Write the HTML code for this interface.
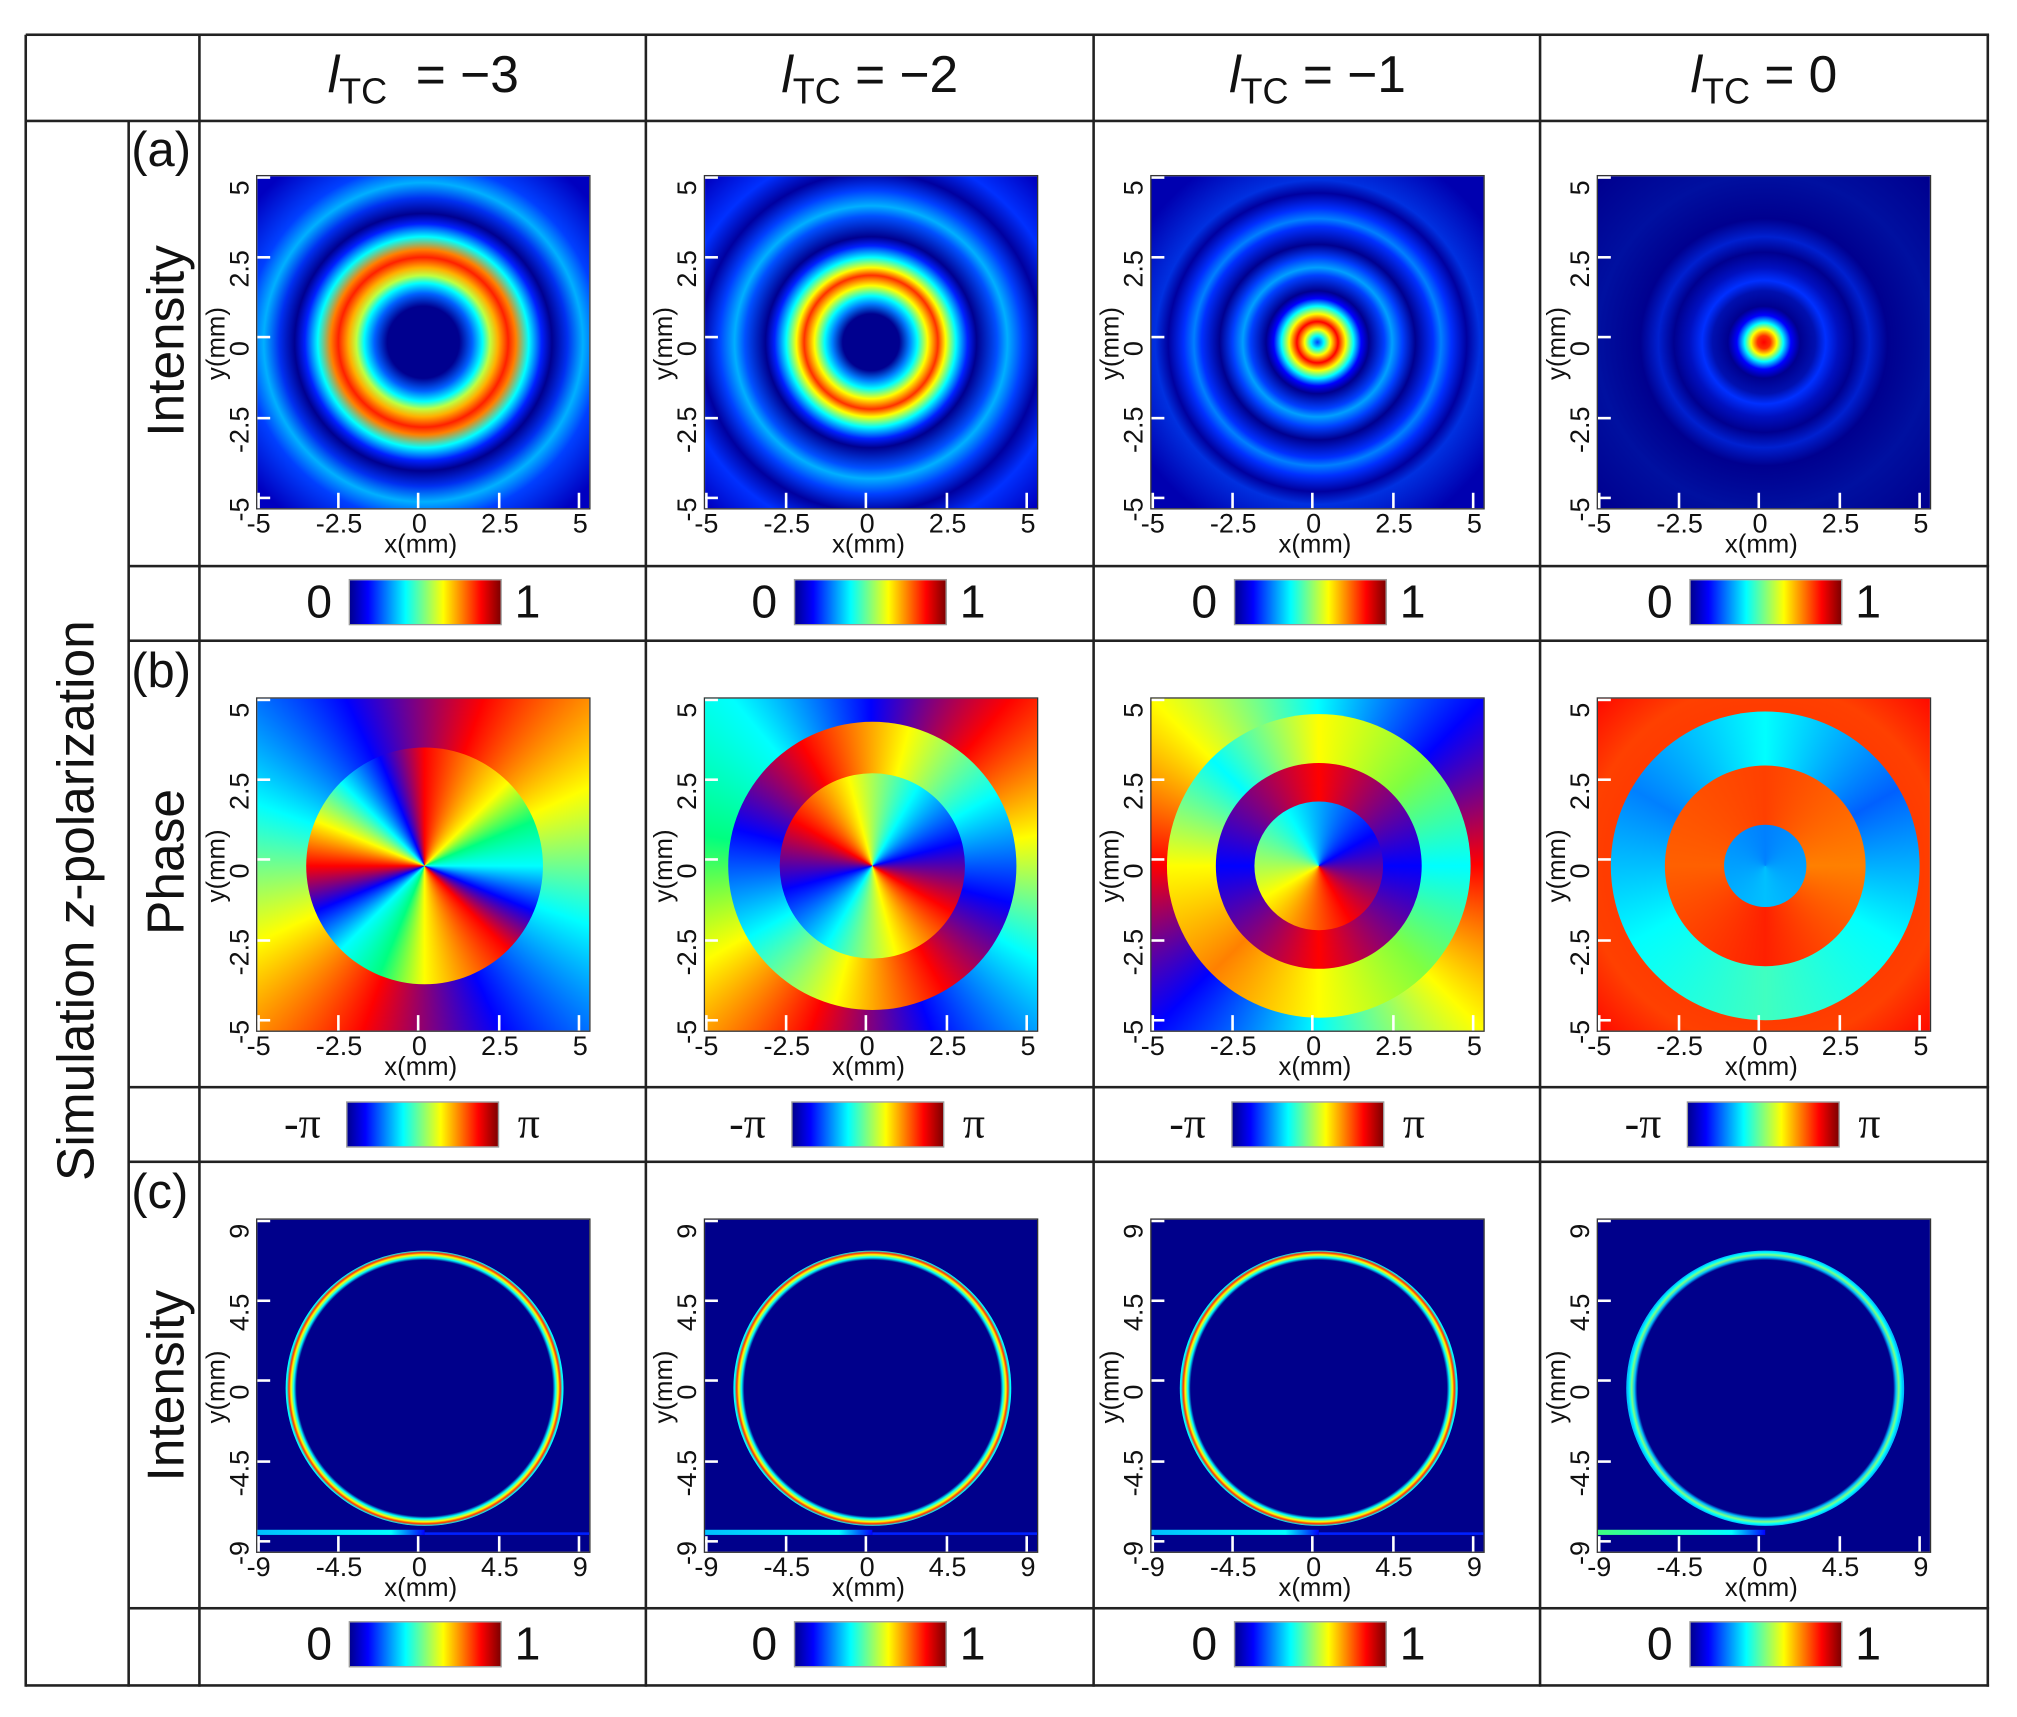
<!DOCTYPE html>
<html><head><meta charset="utf-8">
<style>
html,body{margin:0;padding:0;background:#fff;overflow:hidden}
#w{position:absolute;left:0;top:0;width:1560px;height:1328px;transform:scale(1.2866);transform-origin:0 0;font-family:"Liberation Sans",sans-serif;color:#111}
.h{position:absolute;background:#222;height:2px}
.v{position:absolute;background:#222;width:2px}
.t{position:absolute;white-space:nowrap}
.p{position:absolute;width:260px;height:260px;border:1.5px solid #333;box-sizing:border-box;overflow:hidden}
.tk{position:absolute;background:#fff}
.cb{position:absolute;width:119px;height:36px;background:linear-gradient(90deg,#00008f 0%,#0000ff 12%,#00ffff 37%,#ffff00 62%,#ff0000 87%,#7f0000 100%);border:1px solid #999;box-sizing:border-box}
.rot{transform:translate(-50%,-50%) rotate(-90deg);transform-origin:center}
.lay{position:absolute;border-radius:50%}
</style></head><body><div id="w"></div>
<script>
const W=document.getElementById('w');
function add(html){W.insertAdjacentHTML('beforeend',html);}
function H(x1,x2,y){add(`<div class="h" style="left:${x1}px;top:${y-1}px;width:${x2-x1+1}px"></div>`);}
function V(x,y1,y2){add(`<div class="v" style="left:${x-1}px;top:${y1}px;height:${y2-y1+1}px"></div>`);}
H(20,1545,27);H(20,1545,94);H(20,1545,1310);
[440,498,845,903,1250].forEach(y=>H(100,1545,y));
V(20,27,1310);V(1545,27,1310);V(100,94,1310);
[155,502,850,1197].forEach(x=>V(x,27,1310));
const cols=[155,502,850,1197];
const hd=['= \u22123','= \u22122','= \u22121','= 0'];
cols.forEach((c,i)=>{add(`<div class="t" style="left:${c+174}px;top:62px;transform:translate(-50%,-50%);font-size:40px"><i>l</i><sub style="font-size:28px">TC</sub>${i==0?'&nbsp;':''} ${hd[i]}</div>`);});
add(`<div class="t rot" style="left:60px;top:700px;font-size:40px">Simulation <i>z</i>-polarization</div>`);
[['(a)',120],['(b)',525],['(c)',930]].forEach(a=>add(`<div class="t" style="left:102px;top:${a[1]-24}px;font-size:38px">${a[0]}</div>`));
[['Intensity',265],['Phase',670],['Intensity',1077]].forEach(a=>add(`<div class="t rot" style="left:130px;top:${a[1]}px;font-size:40px">${a[0]}</div>`));
const tops=[136,542,947];
const fills=[
[
`radial-gradient(circle at 50% 50%,#00008f 0,#00008f 28px,#0060ff 38px,#00ffff 46px,#c0ff40 52px,#ffb000 58px,#ff2000 66px,#ff8000 72px,#00ffff 82px,#0020ff 92px,#00008f 100px,#0030f0 112px,#00b0ff 124px,#0040ff 138px,#0000c0 170px)`,
`radial-gradient(circle at 50% 50%,#00008f 0,#00008f 22px,#0080ff 30px,#00ffff 36px,#ffff00 44px,#ff3000 52px,#ffff00 58px,#00ffff 66px,#0020ff 75px,#00008f 82px,#0050ff 98px,#00b0ff 106px,#0040ff 118px,#00009f 132px,#0030ff 150px,#0000c0 180px)`,
`radial-gradient(circle at 50% 50%,#0040ff 0,#00ffff 5px,#ffff00 10px,#ff0000 16px,#ffff00 22px,#00ffff 28px,#0000ff 34px,#00008f 40px,#0040ff 52px,#00a0ff 58px,#0040ff 66px,#00008f 76px,#0030ff 90px,#0080ff 96px,#0030ff 104px,#00009f 116px,#0030e0 126px,#0000b0 160px)`,
`radial-gradient(circle at 50% 50%,#ff0000 0,#ff3000 5px,#ffff00 10px,#00ffff 15px,#0000ff 21px,#00008f 28px,#0010b0 40px,#0030ff 48px,#0010c0 58px,#00008f 70px,#0020d0 82px,#00008f 96px,#0010a0 130px,#00008f 180px)`
],
[
`conic-gradient(from 20deg,#ff0000,#ffff00,#00ffff,#0000ff,#ff0000,#ffff00,#00ffff,#0000ff,#ff0000)`,
`conic-gradient(from 200deg,#ff0000,#ffff00,#00ff80,#00ffff,#0000ff,#ff0000,#ffff00,#00ffff,#0000ff,#ff0000)`,
`conic-gradient(from 90deg,#ff0000,#ffff00,#00ffff,#0000ff,#ff0000,#ffff00,#00ffff,#0000ff,#ff0000)`,
`radial-gradient(circle at 50% 50%,#ff2000 0,#ff4000 140px,#ff0000 190px)`
],
[`linear-gradient(#00008b,#00008b)`,`linear-gradient(#00008b,#00008b)`,`linear-gradient(#00008b,#00008b)`,`linear-gradient(#00008b,#00008b)`]];
const phaseLayers=[
 [[92,`conic-gradient(from 0deg,#ff0000,#ff8000,#ffff00,#00ff80,#00ffff,#0000ff,#ff0000,#ff8000,#ffff00,#00ff80,#00ffff,#0000ff,#ff0000,#ffff00,#00ffff,#0000ff,#ff0000)`]],
 [[112,`conic-gradient(from 60deg,#00ffff,#0000ff,#ff0000,#ffff00,#00ffff,#0000ff,#ff0000,#ffff00,#00ffff)`],[72,`conic-gradient(from 300deg,#ff0000,#ffff00,#00ffff,#0000ff,#ff0000,#ffff00,#00ffff,#0000ff,#ff0000)`]],
 [[118,`conic-gradient(from 0deg,#ffff00,#80ff40,#00ffff,#80ff40,#ffff00,#ff8000,#ffff00,#00ffff,#ffff00)`],[80,`conic-gradient(from 90deg,#0000ff,#ff0000,#0000ff,#ff0000,#0000ff)`],[50,`conic-gradient(from 150deg,#ff0000,#ffff00,#00ffff,#0000ff,#ff0000)`]],
 [[120,`conic-gradient(from 0deg,#00ffff,#0060ff,#00ffff,#40ffc0,#00ffff,#0080ff,#00ffff)`],[78,`conic-gradient(from 0deg,#ff4000,#ff8000,#ff2000,#ff6000,#ff4000)`],[32,`conic-gradient(#0080ff,#00c0ff,#0080ff)`]]
];
const xs=[199,547,894,1241];
const cbl=[271,617,959,1313];
for(let r=0;r<3;r++){
 const T=tops[r];
 for(let c=0;c<4;c++){
  const L=xs[c];
  let inner='';
  if(r==1){phaseLayers[c].forEach(l=>{const rr=l[0];inner+=`<div class="lay" style="left:${130-rr}px;top:${130-rr}px;width:${2*rr}px;height:${2*rr}px;background:${l[1]}"></div>`;});}
  if(r==2){
   const ringc = c==3? '#00c0ff':'#00ffff';
   inner+=`<div class="lay" style="left:${130-108}px;top:${130-106}px;width:216px;height:214px;background:radial-gradient(circle closest-side,transparent 0,transparent 93%,${ringc} 95%,${c==3?'#80ff80':'#ffff00'} 97%,${c==3?'#00ffff':'#ff3000'} 98.5%,${ringc} 100%)"></div>`;
   inner+=`<div style="position:absolute;left:0;top:241px;width:130px;height:4px;background:linear-gradient(90deg,${c==3?'#40ff80':'#00c0ff'},#00ffff 80%,#0000ff)"></div>`;
   if(c<3) inner+=`<div style="position:absolute;left:130px;top:243px;width:130px;height:2px;background:#0020ff"></div>`;
  }
  for(let k=0;k<5;k++){
   const p=k*62.5;
   inner+=`<div class="tk" style="left:0;top:${Math.min(256,Math.max(0,p-1))}px;width:10px;height:2px"></div>`;
   inner+=`<div class="tk" style="top:246px;left:${Math.min(256,Math.max(0,p-1))}px;width:2px;height:12px"></div>`;
  }
  add(`<div class="p" style="left:${L}px;top:${T}px;background:${fills[r][c]}">${inner}</div>`);
  const labs = r<2? ['-5','-2.5','0','2.5','5'] : ['-9','-4.5','0','4.5','9'];
  for(let k=0;k<5;k++){
   const p=k*62.5;
   add(`<div class="t" style="left:${L+p+2}px;top:${T+272}px;transform:translate(-50%,-50%);font-size:21px">${labs[k]}</div>`);
   add(`<div class="t rot" style="left:${L-12}px;top:${T+260-p}px;font-size:21px">${labs[k]}</div>`);
  }
  add(`<div class="t" style="left:${L+128}px;top:${T+288}px;transform:translate(-50%,-50%);font-size:20px">x(mm)</div>`);
  add(`<div class="t rot" style="left:${L-30}px;top:${T+131}px;font-size:20px">y(mm)</div>`);
  const cy=[468,874,1278][r];
  const bl=cbl[c]-(r==1?2:0);
  add(`<div class="cb" style="left:${bl}px;top:${cy-18}px"></div>`);
  if(r==1){
   add(`<div class="t" style="left:${bl-34}px;top:${cy}px;transform:translate(-50%,-50%);font-size:34px;font-family:'Liberation Serif',serif">-\u03c0</div>`);
   add(`<div class="t" style="left:${bl+142}px;top:${cy}px;transform:translate(-50%,-50%);font-size:34px;font-family:'Liberation Serif',serif">\u03c0</div>`);
  } else {
   add(`<div class="t" style="left:${bl-23}px;top:${cy}px;transform:translate(-50%,-50%);font-size:36px">0</div>`);
   add(`<div class="t" style="left:${bl+139}px;top:${cy}px;transform:translate(-50%,-50%);font-size:36px">1</div>`);
  }
 }
}
</script></body></html>
